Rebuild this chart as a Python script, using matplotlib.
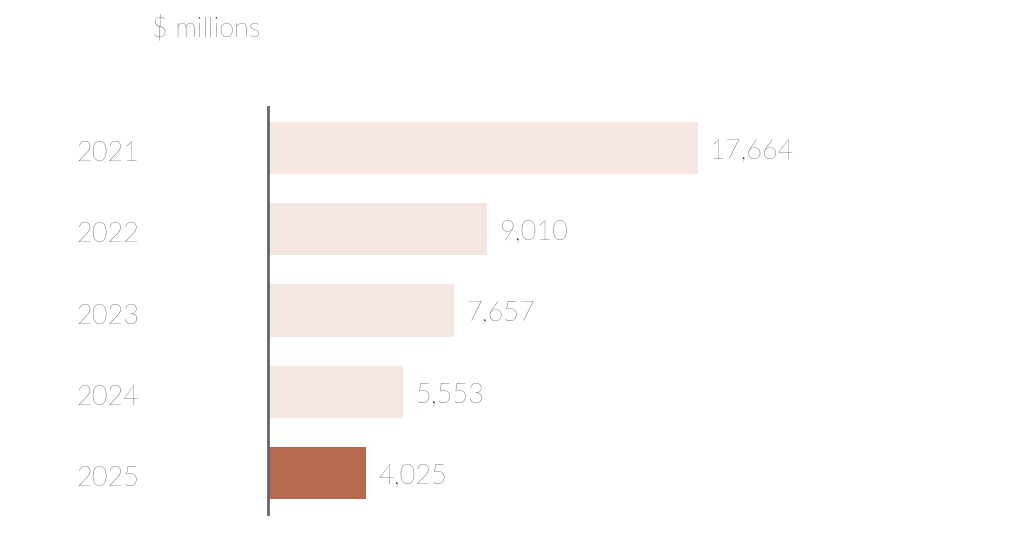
import matplotlib
matplotlib.use("Agg")
import matplotlib.pyplot as plt

years = ["2021", "2022", "2023", "2024", "2025"]
values = [17664, 9010, 7657, 5553, 4025]
colors = ["#F5E6E1", "#F5E6E1", "#F5E6E1", "#F5E6E1", "#B5694E"]

plt.rcParams['font.family'] = ['Lato', 'DejaVu Sans']
fs = 19.5
fig = plt.figure(figsize=(10.23, 5.33), dpi=100)
ax = fig.add_axes([268/1023, 19/533, 730/1023, 407/533])
y = list(range(len(years)))
ax.barh(y, values, height=0.64, color=colors, left=0)
ax.set_xlim(0, 30000)
ax.set_ylim(4.5, -0.5)
ax.set_yticks(y)
ax.set_yticklabels([])
for yi, lab in zip(y, years):
    ax.text(-0.176, yi + 0.07, lab, transform=ax.get_yaxis_transform(), ha="right", va="center",
            fontsize=fs, fontweight="light", color="#222222")
ax.tick_params(axis='y', length=0)
ax.set_xticks([])
for s in ["top", "right", "bottom"]:
    ax.spines[s].set_visible(False)
ax.spines["left"].set_color("#5f6672")
ax.spines["left"].set_linewidth(2)
for yi, v in zip(y, values):
    ax.text(v + 500, yi + 0.04, f"{v:,}", va="center", ha="left", fontsize=fs,
            fontweight="light", color="#222222")
fig.text(152/1023, 1 - 29/533, "$ millions", fontsize=fs, fontweight="light",
         va="center", ha="left", color="#222222")
fig.savefig("out.png", dpi=100, facecolor="white")
